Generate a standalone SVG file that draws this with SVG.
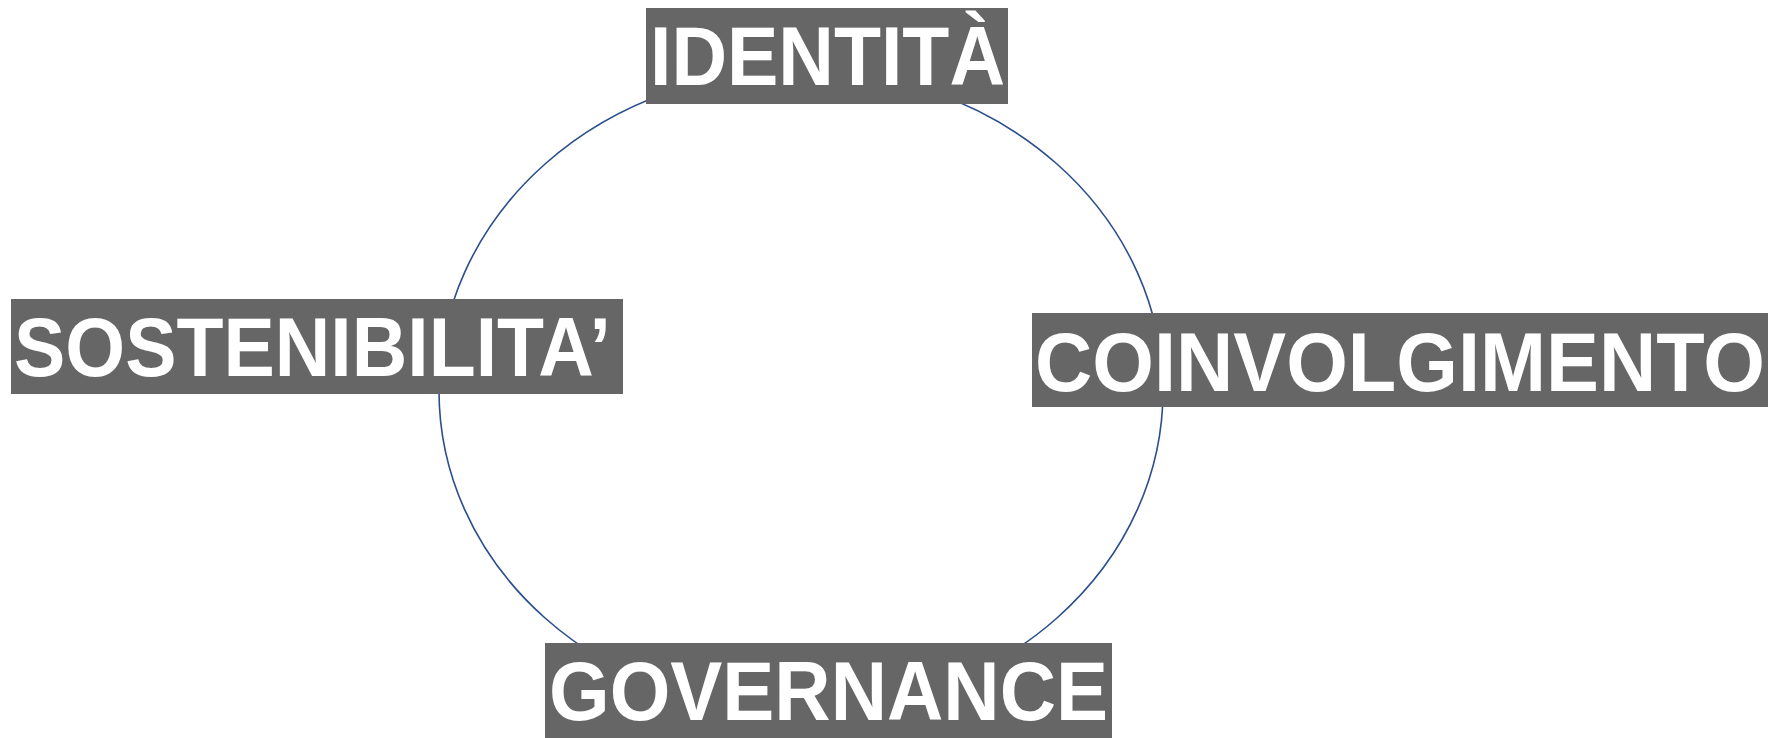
<svg xmlns="http://www.w3.org/2000/svg" width="1770" height="738" viewBox="0 0 1770 738">
<style>
.box{fill:#666666}
.lbl{font-family:"Liberation Sans",Arial,Helvetica,sans-serif;font-weight:bold;font-size:83px;fill:#ffffff}
.ring{fill:none;stroke:#2B4E8C;stroke-width:1.6}
</style>
<rect width="1770" height="738" fill="#ffffff"/>
<g id="connectors">
<ellipse class="ring" cx="801" cy="391" rx="362" ry="321"/>
</g>
<g id="node-identita">
<rect class="box" x="646" y="8" width="362" height="96"/>
<text class="lbl" x="650" y="85" textLength="355" lengthAdjust="spacingAndGlyphs">IDENTITÀ</text>
</g>
<g id="node-sostenibilita">
<rect class="box" x="11" y="299" width="612" height="95"/>
<text class="lbl" x="14" y="376" textLength="597" lengthAdjust="spacingAndGlyphs">SOSTENIBILITA’</text>
</g>
<g id="node-coinvolgimento">
<rect class="box" x="1032" y="313" width="736" height="94"/>
<text class="lbl" x="1035" y="391" textLength="730" lengthAdjust="spacingAndGlyphs">COINVOLGIMENTO</text>
</g>
<g id="node-governance">
<rect class="box" x="545" y="643" width="567" height="95"/>
<text class="lbl" x="549" y="720" textLength="559" lengthAdjust="spacingAndGlyphs">GOVERNANCE</text>
</g>
</svg>
